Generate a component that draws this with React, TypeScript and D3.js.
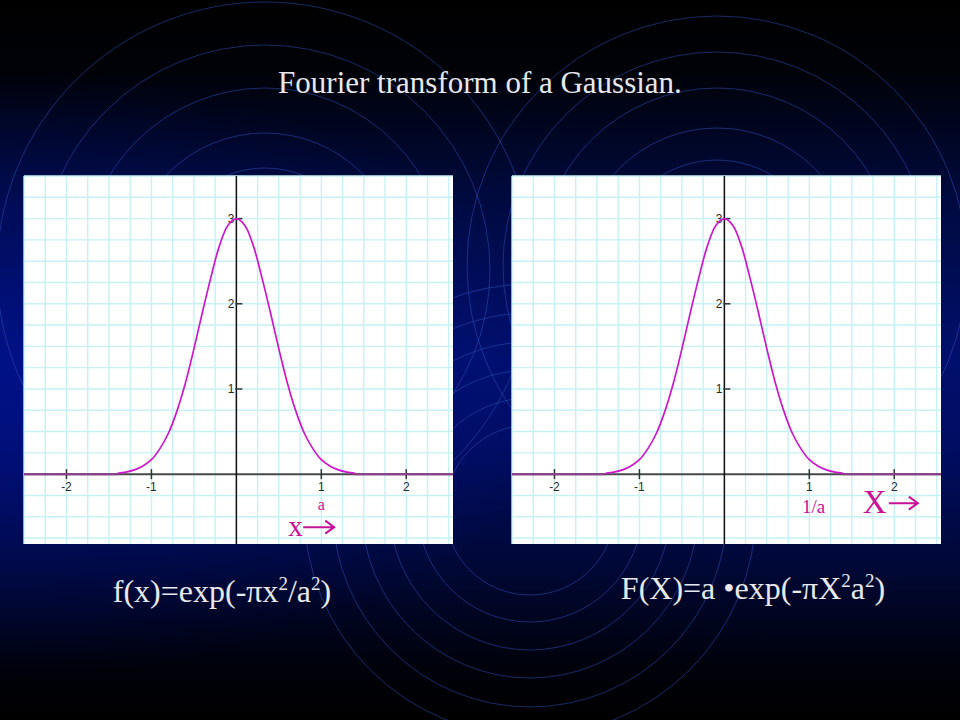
import React from "react";
import * as d3 from "d3";

// ---- data ----
const sampleX = [-1.4, -1.3, -1.2, -1.1, -1.0, -0.9, -0.8, -0.7, -0.6, -0.5, -0.4, -0.3, -0.2, -0.1, 0, 0.1, 0.2, 0.3, 0.4, 0.5, 0.6, 0.7, 0.8, 0.9, 1.0, 1.1, 1.2, 1.3, 1.4];
const fValues = [0.01, 0.024, 0.05, 0.096, 0.17, 0.3, 0.48, 0.74, 1.07, 1.47, 1.9, 2.31, 2.68, 2.92, 3.0, 2.92, 2.68, 2.31, 1.9, 1.47, 1.07, 0.74, 0.48, 0.3, 0.17, 0.096, 0.05, 0.024, 0.01];
const FValues = [0.01, 0.024, 0.05, 0.096, 0.17, 0.3, 0.48, 0.74, 1.07, 1.47, 1.9, 2.31, 2.68, 2.92, 3.0, 2.92, 2.68, 2.31, 1.9, 1.47, 1.07, 0.74, 0.48, 0.3, 0.17, 0.096, 0.05, 0.024, 0.01];
const xTickValues = [-2, -1, 1, 2];
const xTickLabels = ["-2", "-1", "1", "2"];
const yTickValues = [1, 2, 3];
const yTickLabels = ["1", "2", "3"];
const xDomain = [-2.5, 2.55];
const yDomain = [-0.82, 3.5];

const titleText = "Fourier transform of a Gaussian.";

const W = 960;
const H = 720;
const PW = 429;
const PH = 368;

const SERIF = "'Liberation Serif', 'Times New Roman', Times, serif";
const SANS = "'Liberation Sans', Arial, Helvetica, sans-serif";
const MAG = "#c8129a";

const bgCircles = [
  { cx: 265, cy: 270, r: [268, 225, 182, 137, 102] },
  { cx: 717, cy: 266, r: [250, 214, 178, 138, 106] },
  { cx: 530, cy: 510, r: [85, 112, 140, 168, 197, 226] },
];

function Arrow({ x1, x2, y }: { x1: number; x2: number; y: number }) {
  return (
    <path
      d={`M${x1},${y} H${x2 - 1} M${x2 - 9},${y - 6.5} L${x2},${y} L${x2 - 9},${y + 6.5}`}
      fill="none"
      stroke={MAG}
      strokeWidth={2}
      strokeLinejoin="miter"
    />
  );
}

function Panel({ left, top, values, annot }: { left: number; top: number; values: number[]; annot: "a" | "b" }) {
  const x = d3.scaleLinear().domain(xDomain).range([0, PW]);
  const y = d3.scaleLinear().domain(yDomain).range([PH, 0]);
  const gridX = d3.range(-2.5, 2.56, 0.25);
  const gridY = d3.range(-0.75, 3.51, 0.25);
  const pts: [number, number][] = sampleX.map((v, i) => [v, values[i]]);
  const line = d3
    .line<[number, number]>()
    .x((d) => x(d[0]))
    .y((d) => y(d[1]))
    .curve(d3.curveCatmullRom);
  const tailL: [number, number][] = [[xDomain[0], 0], [sampleX[0], 0]];
  const tailR: [number, number][] = [[sampleX[sampleX.length - 1], 0], [xDomain[1], 0]];
  const flat = d3
    .line<[number, number]>()
    .x((d) => x(d[0]))
    .y((d) => y(d[1]));
  const x0 = x(0);
  const y0 = y(0);
  return (
    <g transform={`translate(${left},${top})`}>
      <rect x={0} y={0} width={PW} height={PH} fill="#ffffff" />
      {gridX.map((g, i) => (
        <line key={"gx" + i} x1={x(g)} x2={x(g)} y1={0} y2={PH} stroke="#c6f2f5" strokeWidth={1.4} />
      ))}
      {gridY.map((g, i) => (
        <line key={"gy" + i} x1={0} x2={PW} y1={y(g)} y2={y(g)} stroke="#c6f2f5" strokeWidth={1.4} />
      ))}
      <line x1={0} x2={PW} y1={y0} y2={y0} stroke="#4a4a4a" strokeWidth={2} />
      <line x1={x0} x2={x0} y1={0} y2={PH} stroke="#111" strokeWidth={1.5} />
      {xTickValues.map((t, i) => (
        <g key={"xt" + i}>
          <line x1={x(t)} x2={x(t)} y1={y0 - 5} y2={y0 + 5} stroke="#333" strokeWidth={1.5} />
          <text x={x(t)} y={y0 + 17} fontSize={12} fontFamily={SANS} fill="#2a2a2a" textAnchor="middle">
            {xTickLabels[i]}
          </text>
        </g>
      ))}
      {yTickValues.map((t, i) => (
        <g key={"yt" + i}>
          <line x1={x0 - 1} x2={x0 + 6} y1={y(t)} y2={y(t)} stroke="#333" strokeWidth={1.5} />
          <text x={x0 - 2} y={y(t)} dy="0.35em" fontSize={12} fontFamily={SANS} fill="#2a2a2a" textAnchor="end">
            {yTickLabels[i]}
          </text>
        </g>
      ))}
      <path d={flat(tailL) || ""} fill="none" stroke="#8e3c8e" strokeWidth={2} />
      <path d={flat(tailR) || ""} fill="none" stroke="#8e3c8e" strokeWidth={2} />
      <path d={line(pts) || ""} fill="none" stroke="#cc18cc" strokeWidth={1.7} />
      {annot === "a" ? (
        <g>
          <text x={x(1)} y={y0 + 36} fontSize={16} fontFamily={SERIF} fill={MAG} textAnchor="middle">a</text>
          <text x={x(0.61)} y={y0 + 62} fontSize={29} fontFamily={SERIF} fill={MAG}>x</text>
          <Arrow x1={x(0.61) + 15} x2={x(0.61) + 46} y={y0 + 53} />
        </g>
      ) : (
        <g>
          <text x={x(1.05)} y={y0 + 39} fontSize={19} fontFamily={SERIF} fill={MAG} textAnchor="middle">1/a</text>
          <text x={x(1.63)} y={y0 + 39} fontSize={33} fontFamily={SERIF} fill={MAG}>X</text>
          <Arrow x1={x(1.63) + 26} x2={x(1.63) + 55} y={y0 + 29} />
        </g>
      )}
    </g>
  );
}

export default function App() {
  return (
    <svg width={W} height={H} style={{ position: "absolute", left: 0, top: 0, display: "block" }}>
      <defs>
        <linearGradient id="bgv" x1="0" y1="0" x2="0" y2="1">
          <stop offset="0" stopColor="#000000" />
          <stop offset="0.1" stopColor="#000208" />
          <stop offset="0.28" stopColor="#000a40" />
          <stop offset="0.5" stopColor="#000f6c" />
          <stop offset="0.62" stopColor="#000d62" />
          <stop offset="0.78" stopColor="#000838" />
          <stop offset="0.92" stopColor="#00020c" />
          <stop offset="1" stopColor="#000000" />
        </linearGradient>
        <radialGradient id="bgr" cx="0" cy="0.52" r="0.6" gradientTransform="translate(0,0.52) scale(1,0.7) translate(0,-0.52)">
          <stop offset="0" stopColor="#0014a8" stopOpacity="0.45" />
          <stop offset="1" stopColor="#0014a8" stopOpacity="0" />
        </radialGradient>
      </defs>
      <rect x={0} y={0} width={W} height={H} fill="url(#bgv)" />
      <rect x={0} y={0} width={W} height={H} fill="url(#bgr)" />
      {bgCircles.map((c, i) =>
        c.r.map((r, j) => (
          <circle key={`c${i}-${j}`} cx={c.cx} cy={c.cy} r={r} fill="none" stroke="#2d55c0" strokeOpacity={0.5} strokeWidth={1} />
        ))
      )}
      <text x={480} y={93} fontSize={31} fontFamily={SERIF} fill="#e8e8ee" textAnchor="middle">
        {titleText}
      </text>
      <Panel left={24} top={176} values={fValues} annot="a" />
      <Panel left={512} top={176} values={FValues} annot="b" />
      <text x={222} y={602} fontSize={32} fontFamily={SERIF} fill="#e8e8ee" textAnchor="middle">
        <tspan>f(x)=exp(-πx</tspan>
        <tspan fontSize={19} dy={-12}>2</tspan>
        <tspan dy={12}>/a</tspan>
        <tspan fontSize={19} dy={-12}>2</tspan>
        <tspan dy={12}>)</tspan>
      </text>
      <text x={753} y={599} fontSize={32} fontFamily={SERIF} fill="#e8e8ee" textAnchor="middle">
        <tspan>F(X)=a •exp(-πX</tspan>
        <tspan fontSize={19} dy={-12}>2</tspan>
        <tspan dy={12}>a</tspan>
        <tspan fontSize={19} dy={-12}>2</tspan>
        <tspan dy={12}>)</tspan>
      </text>
    </svg>
  );
}
